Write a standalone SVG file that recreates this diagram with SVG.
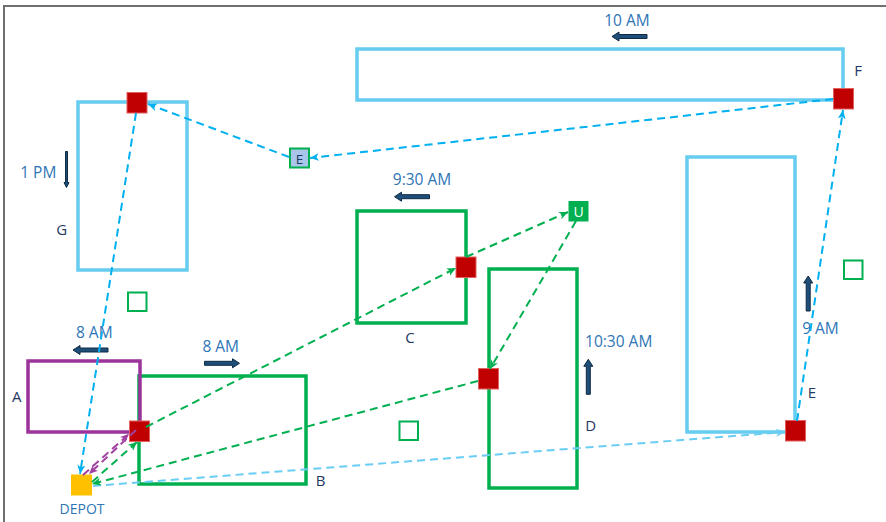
<svg xmlns="http://www.w3.org/2000/svg" width="886" height="522" viewBox="0 0 886 522">
<style>
.zb{fill:none;stroke:#66CCF0;stroke-width:3.5}
.zg{fill:none;stroke:#00B050;stroke-width:3.5}
.zp{fill:none;stroke:#9B339B;stroke-width:3.5}
.stop{fill:#C00000;stroke:#E06060;stroke-width:1}
.empty{fill:#fff;stroke:#00B050;stroke-width:2}
.blk{fill:#1F4E79;stroke:#0C2A44;stroke-width:1}
.t{font-family:"Open Sans","Liberation Sans",sans-serif;font-size:15.5px;fill:#2E75B6;text-anchor:middle}
.l{font-family:"Open Sans","Liberation Sans",sans-serif;font-size:15px;fill:#1F3864;text-anchor:middle}
.c{fill:none;stroke-width:2;stroke-dasharray:8 5}
.cb{stroke:#00B0F0;marker-end:url(#mb)}
.cl{stroke:#6ACDF3;marker-end:url(#ml)}
.cg{stroke:#00B050;marker-end:url(#mg)}
.cp{stroke:#A040A0;marker-end:url(#mp)}
</style>
<defs>
<marker id="mb" markerUnits="userSpaceOnUse" markerWidth="10" markerHeight="9" refX="9" refY="4" orient="auto"><path d="M0,0 L9,4 L0,8 L2.5,4 Z" fill="#00B0F0"/></marker>
<marker id="ml" markerUnits="userSpaceOnUse" markerWidth="10" markerHeight="9" refX="9" refY="4" orient="auto"><path d="M0,0 L9,4 L0,8 L2.5,4 Z" fill="#6ACDF3"/></marker>
<marker id="mg" markerUnits="userSpaceOnUse" markerWidth="10" markerHeight="9" refX="9" refY="4" orient="auto"><path d="M0,0 L9,4 L0,8 L2.5,4 Z" fill="#00B050"/></marker>
<marker id="mp" markerUnits="userSpaceOnUse" markerWidth="10" markerHeight="9" refX="9" refY="4" orient="auto"><path d="M0,0 L9,4 L0,8 L2.5,4 Z" fill="#A040A0"/></marker>
<path id="arr" d="M0,0 L7,-4.5 L7,-2 L35,-2 L35,2 L7,2 L7,4.5 Z"/>
<path id="arrThin" d="M0,0 L5,-2.5 L5,-1 L36,-1 L36,1 L5,1 L5,2.5 Z"/>
</defs>

<rect width="886" height="522" fill="#fff"/>
<g id="frame" fill="none" stroke="#707070" stroke-width="2">
<path d="M4,522 V6 H886"/>
</g>

<g id="zone-B"><rect class="zg" x="139" y="376" width="167" height="108"/><text class="l" x="320.5" y="486">B</text></g>
<g id="zone-A"><rect class="zp" x="28" y="361" width="112" height="71"/><text class="l" x="16.7" y="402">A</text></g>
<g id="zone-G"><rect class="zb" x="78" y="102" width="109" height="168"/><text class="l" x="61.7" y="235">G</text></g>
<g id="zone-F"><rect class="zb" x="357" y="49" width="486" height="51"/><text class="l" x="858" y="76">F</text></g>
<g id="zone-C"><rect class="zg" x="357" y="211" width="109" height="112"/><text class="l" x="410" y="343">C</text></g>
<g id="zone-D"><rect class="zg" x="489" y="269" width="88" height="219"/><text class="l" x="590.7" y="431">D</text></g>
<g id="zone-E"><rect class="zb" x="687" y="157" width="108" height="275"/><text class="l" x="812" y="398">E</text></g>

<g id="time-10am"><use href="#arr" class="blk" transform="translate(612,36.5)"/><text class="t" x="627" y="26">10 AM</text></g>
<g id="time-930am"><use href="#arr" class="blk" transform="translate(394.5,196.7)"/><text class="t" x="422" y="185">9:30 AM</text></g>
<g id="time-8am-A"><use href="#arr" class="blk" transform="translate(73,350)"/><text class="t" x="94.3" y="338">8 AM</text></g>
<g id="time-8am-B"><use href="#arr" class="blk" transform="translate(239.5,363.3) rotate(180)"/><text class="t" x="220.7" y="352">8 AM</text></g>
<g id="time-1pm"><use href="#arrThin" class="blk" transform="translate(66.5,187.5) rotate(-90)"/><text class="t" x="38.3" y="178">1 PM</text></g>
<g id="time-1030am"><use href="#arr" class="blk" transform="translate(588.3,359.3) rotate(90)"/><text class="t" x="618.7" y="347">10:30 AM</text></g>
<g id="time-9am"><use href="#arr" class="blk" transform="translate(808.2,276) rotate(90)"/><text class="t" x="820.5" y="334">9 AM</text></g>

<g id="empty-1"><rect class="empty" x="128" y="292.5" width="18.5" height="18.5"/></g>
<g id="empty-2"><rect class="empty" x="399.5" y="421.5" width="18.5" height="18.5"/></g>
<g id="empty-3"><rect class="empty" x="844" y="260.5" width="18.5" height="18.5"/></g>

<g id="stop-G"><rect class="stop" x="127" y="92.5" width="20" height="20.5"/></g>
<g id="stop-AB"><rect class="stop" x="129.5" y="421" width="20" height="20.5"/></g>
<g id="stop-C"><rect class="stop" x="456" y="257" width="20" height="20.5"/></g>
<g id="stop-D"><rect class="stop" x="478.5" y="368.5" width="20" height="20.5"/></g>
<g id="stop-F"><rect class="stop" x="833.5" y="88.5" width="20" height="20.5"/></g>
<g id="stop-E"><rect class="stop" x="785.5" y="420.5" width="20" height="20.5"/></g>

<g id="depot"><rect x="71" y="474.5" width="21" height="21" fill="#FFC000"/><text x="82" y="514" font-family="'Open Sans','Liberation Sans',sans-serif" font-size="14" fill="#2E75B6" text-anchor="middle">DEPOT</text></g>
<g id="node-U"><rect x="568.5" y="201" width="20" height="20.5" fill="#00B050"/><text x="578.5" y="216.5" font-family="'Open Sans','Liberation Sans',sans-serif" font-size="14" fill="#fff" text-anchor="middle">U</text></g>
<g id="node-E-box"><rect x="290" y="148.5" width="19" height="19" fill="#A9C6EA" stroke="#00B050" stroke-width="2"/><text x="299.5" y="163.5" font-family="'Open Sans','Liberation Sans',sans-serif" font-size="13.5" fill="#1F3864" text-anchor="middle">E</text></g>

<g id="connectors">
<path class="c cl" d="M93,486 L785,432"/>
<path class="c cb" d="M797,421 L843,110"/>
<path class="c cb" d="M833,99 L310,158"/>
<path class="c cb" d="M289,157 L148,104"/>
<path class="c cb" d="M136,113 L80,474"/>
<path class="c cg" d="M92,482 L137,442"/>
<path class="c cg" d="M146,427 L456,268"/>
<path class="c cg" d="M466,257 L568,212"/>
<path class="c cg" d="M576,221 L490,369"/>
<path class="c cg" d="M478,381 L92,484"/>
<path class="c cp" d="M83,475 L129,434"/>
<path class="c cp" d="M136,430 L89,474"/>
</g>
</svg>
